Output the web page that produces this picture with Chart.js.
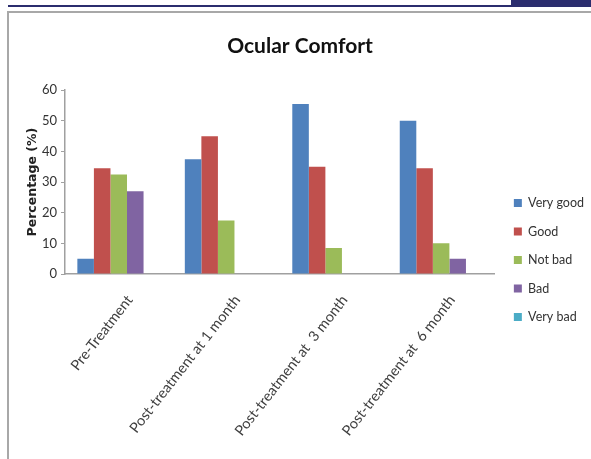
<!DOCTYPE html>
<html>
<head>
<meta charset="utf-8">
<script src="https://cdn.jsdelivr.net/npm/chart.js@4"></script>
<style>
  body { margin: 0; background: #fff; width: 591px; height: 459px; overflow: hidden; position: relative; }
  .navyline { position: absolute; left: 8px; top: 5px; width: 583px; height: 2px; background: #2b2d6e; }
  .navyblock { position: absolute; left: 511px; top: 0; width: 80px; height: 6px; background: #2b2d6e; }
  .frame { position: absolute; left: 7px; top: 11px; width: 584px; height: 448px; border-left: 2px solid #a8a8a8; border-top: 2px solid #a8a8a8; }
  .wrap { position: absolute; left: 9px; top: 13px; width: 582px; height: 446px; }
</style>
</head>
<body>
<div class="navyblock"></div>
<div class="navyline"></div>
<div class="frame"></div>
<div class="wrap"><canvas id="c"></canvas></div>
<script>
// 카테고리 / 시리즈
const categories = ["Pre-Treatment", "Post-treatment at 1 month", "Post-treatment at  3 month", "Post-treatment at  6 month"];
const veryGood = [5, 37.5, 55.5, 50];
const good = [34.5, 45, 35, 34.5];
const notBad = [32.5, 17.5, 8.5, 10];
const bad = [27, 0, 0, 5];
const veryBad = [0, 0, 0, 0];
const yTicks = [0, 10, 20, 30, 40, 50, 60];

const font = "Lato, 'Open Sans', sans-serif";

// 범례를 아래로 조금 내림
const legendShift = {
  id: "legendShift",
  afterLayout(chart) {
    const lg = chart.legend;
    lg.top += 24;
    lg.bottom += 24;
    lg.left += 3;
    lg.right += 3;
  },
};

new Chart(document.getElementById("c").getContext("2d"), {
  type: "bar",
  data: {
    labels: categories,
    datasets: [
      { label: "Very good", data: veryGood, backgroundColor: "#4f81bd" },
      { label: "Good", data: good, backgroundColor: "#c0504d" },
      { label: "Not bad", data: notBad, backgroundColor: "#9bbb59" },
      { label: "Bad", data: bad, backgroundColor: "#8064a2" },
      { label: "Very bad", data: veryBad, backgroundColor: "#4bacc6" },
    ],
  },
  options: {
    responsive: true,
    maintainAspectRatio: false,
    animation: false,
    datasets: { bar: { barPercentage: 1, categoryPercentage: 0.77 } },
    layout: { padding: 0 },
    scales: {
      x: {
        grid: { display: false },
        border: { color: "#a0a0a0", width: 1.5 },
        ticks: {
          minRotation: 52,
          maxRotation: 52,
          padding: 10,
          labelOffset: 11,
          color: "#404040",
          font: { family: font, size: 14.5 },
        },
        afterFit: (s) => { s.height = 185; },
      },
      y: {
        min: 0,
        max: 60,
        afterBuildTicks: (s) => { s.ticks = yTicks.map((v) => ({ value: v })); },
        grid: { drawOnChartArea: false, tickLength: 4, color: "#a0a0a0" },
        border: { color: "#a0a0a0", width: 1.5 },
        ticks: { color: "#333", padding: 4, font: { family: font, size: 13 } },
        title: {
          display: true,
          text: "Percentage (%)",
          color: "#222",
          font: { family: "'DejaVu Sans', sans-serif", size: 12.5, weight: "bold" },
          padding: { top: 16, bottom: 2 },
        },
        afterFit: (s) => { s.width = 56; },
      },
    },
    plugins: {
      title: {
        display: true,
        text: "Ocular Comfort",
        color: "#111",
        font: { family: font, size: 21, weight: "bold" },
        padding: { top: 21, bottom: 31 },
      },
      legend: {
        position: "right",
        labels: {
          boxWidth: 8,
          boxHeight: 8,
          padding: 16,
          color: "#333",
          font: { family: font, size: 12.5 },
        },
      },
      tooltip: { enabled: false },
    },
  },
  plugins: [legendShift],
});
</script>
</body>
</html>
